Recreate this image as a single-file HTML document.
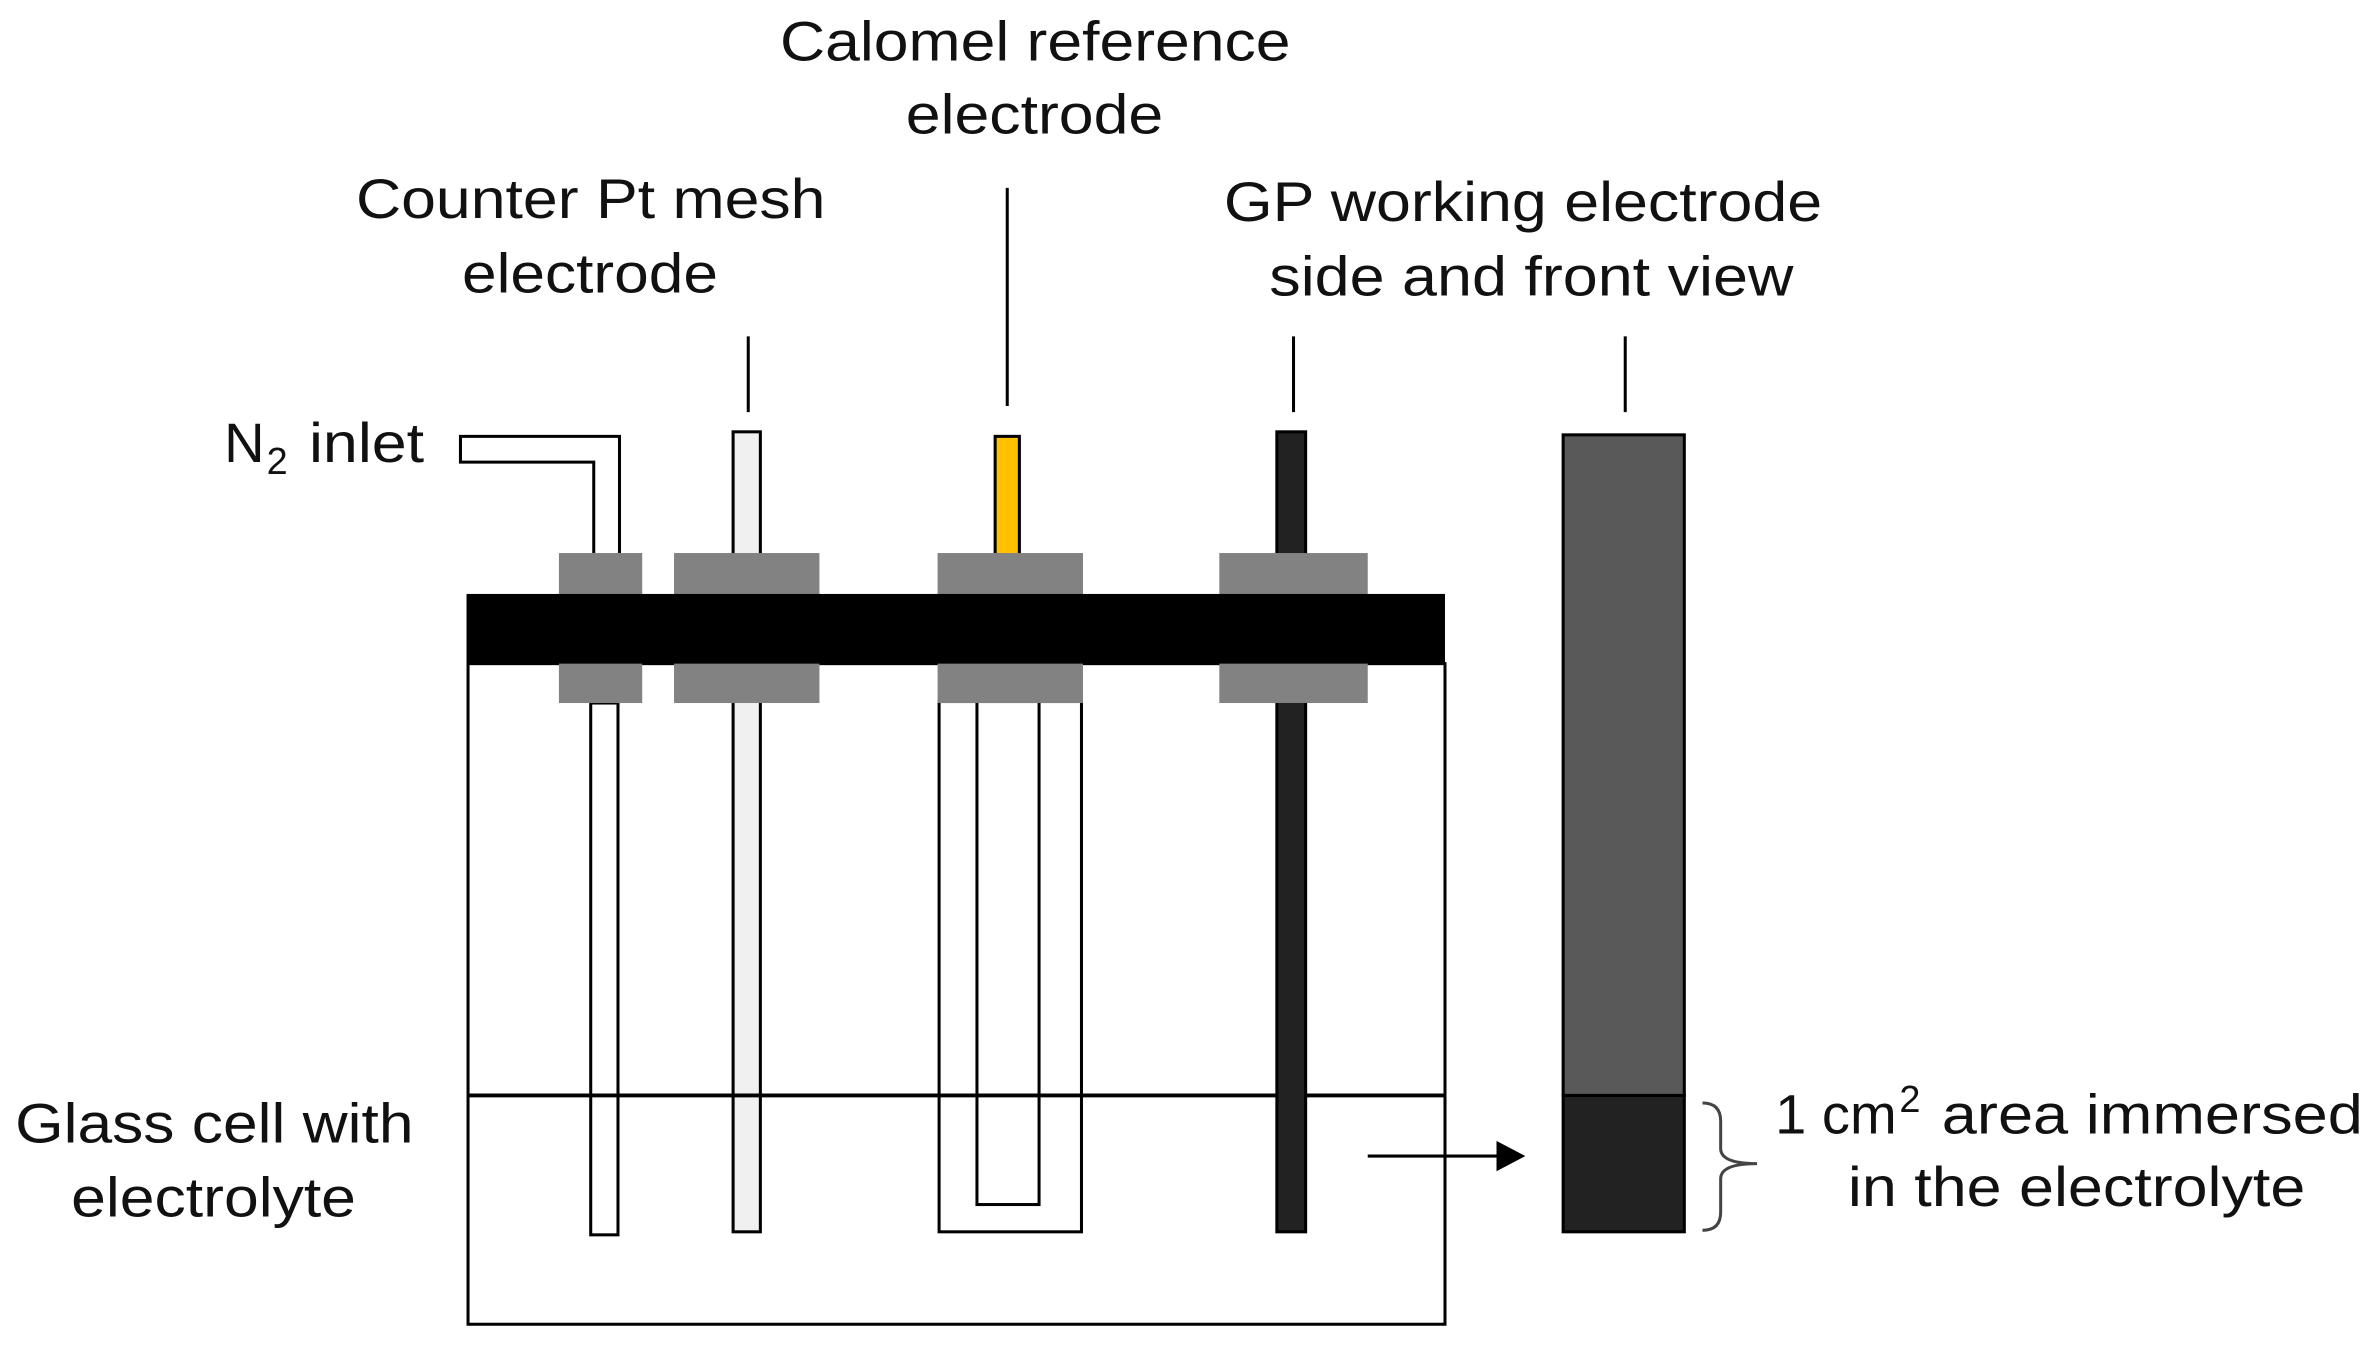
<!DOCTYPE html>
<html><head><style>html,body{margin:0;padding:0;background:#fff;}svg{display:block}</style></head>
<body>
<svg width="2375" height="1350" viewBox="0 0 1568 891" preserveAspectRatio="none" xmlns="http://www.w3.org/2000/svg" font-family="Liberation Sans, Arial, sans-serif" font-size="37" fill="#111">
<rect x="0" y="0" width="1568" height="891" fill="#fff"/>
<rect x="309" y="438" width="645" height="436" fill="#fff" stroke="#000" stroke-width="2"/>
<path d="M409 365 V288 H304 V305 H392 V365" fill="#fff" stroke="#000" stroke-width="2"/>
<rect x="390" y="464" width="18" height="351" fill="#fff" stroke="#000" stroke-width="2"/>
<rect x="484" y="285" width="18" height="528" fill="#f0f0f0" stroke="#000" stroke-width="2"/>
<rect x="657" y="288" width="16" height="80" fill="#FFC000" stroke="#000" stroke-width="2"/>
<rect x="620" y="463" width="94" height="350" fill="#fff" stroke="#000" stroke-width="2"/>
<rect x="645" y="463" width="41" height="332" fill="#fff" stroke="#000" stroke-width="2"/>
<line x1="309" y1="723" x2="954" y2="723" stroke="#000" stroke-width="2.5"/>
<rect x="843" y="285" width="19" height="528" fill="#222" stroke="#000" stroke-width="2"/>
<g fill="#828282">
<rect x="369" y="365" width="55" height="99"/>
<rect x="445" y="365" width="96" height="99"/>
<rect x="619" y="365" width="96" height="99"/>
<rect x="805" y="365" width="98" height="99"/>
</g>
<rect x="308" y="392" width="646" height="46" fill="#000"/>
<rect x="1032" y="287" width="80" height="436" fill="#595959" stroke="#000" stroke-width="2"/>
<rect x="1032" y="723" width="80" height="90" fill="#222" stroke="#000" stroke-width="2"/>
<g stroke="#000" stroke-width="2">
<line x1="494" y1="222" x2="494" y2="272"/>
<line x1="665" y1="124" x2="665" y2="268"/>
<line x1="854" y1="222" x2="854" y2="272"/>
<line x1="1073" y1="222" x2="1073" y2="272"/>
<line x1="903" y1="763" x2="990" y2="763"/>
</g>
<polygon points="1007,763 988,753 988,773" fill="#000"/>
<path d="M1124 728 Q1136 728 1136 740 V758 Q1136 768 1160 768 Q1136 768 1136 778 V800 Q1136 812 1124 812" fill="none" stroke="#444" stroke-width="2"/>
<text x="515" y="40" textLength="337" lengthAdjust="spacingAndGlyphs">Calomel reference</text>
<text x="598" y="88" textLength="170" lengthAdjust="spacingAndGlyphs">electrode</text>
<text x="235" y="144" textLength="310" lengthAdjust="spacingAndGlyphs">Counter Pt mesh</text>
<text x="305" y="193" textLength="169" lengthAdjust="spacingAndGlyphs">electrode</text>
<text x="808" y="146" textLength="395" lengthAdjust="spacingAndGlyphs">GP working electrode</text>
<text x="838" y="195" textLength="346" lengthAdjust="spacingAndGlyphs">side and front view</text>
<text x="10" y="754" textLength="263" lengthAdjust="spacingAndGlyphs">Glass cell with</text>
<text x="47" y="803" textLength="188" lengthAdjust="spacingAndGlyphs">electrolyte</text>
<text x="1220" y="796" textLength="302" lengthAdjust="spacingAndGlyphs">in the electrolyte</text>
<text x="1172" y="748">1 cm</text>
<text x="1254" y="734" font-size="25">2</text>
<text x="1282" y="748" textLength="278" lengthAdjust="spacingAndGlyphs">area immersed</text>
<text x="148" y="305">N</text>
<text x="176" y="313" font-size="25">2</text>
<text x="204" y="305" textLength="76" lengthAdjust="spacingAndGlyphs">inlet</text>
</svg>
</body></html>
